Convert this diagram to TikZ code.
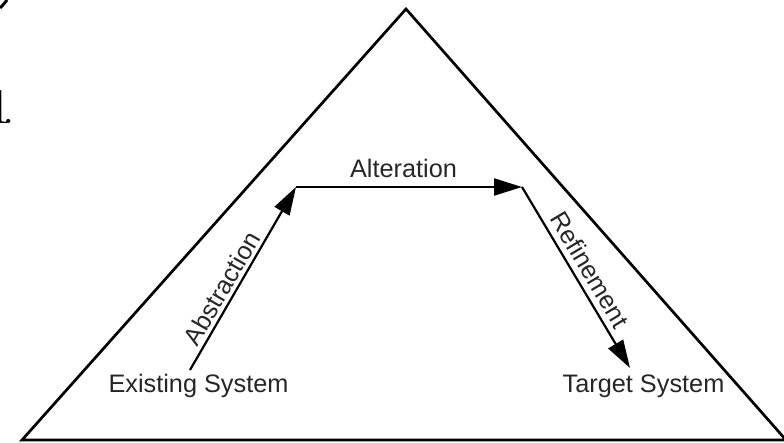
\documentclass[tikz,border=0pt]{standalone}
\usepackage{fontspec}
\newfontfamily\arialfont{Liberation Sans}
\usetikzlibrary{arrows.meta}
\begin{document}
\begin{tikzpicture}[x=1pt,y=-1pt,
  lbl/.style={font=\arialfont\fontsize{25.3}{30}\selectfont, text=black!85, inner sep=0pt},
  tri/.style={line width=2.7pt, line join=miter},
  flow/.style={line width=2.2pt, -{Triangle[length=28pt,width=17pt]}}]
\useasboundingbox (0,0) rectangle (784,443);
\clip (0,0) rectangle (784,443);
% fragments of cropped text at the top left
\node[font=\fontsize{50}{55}\selectfont, anchor=base west, inner sep=0pt] (frag) at (-12,124) {1\kern-8.6pt.};
\draw[line width=3pt] (0,8) .. controls (3,5) .. (7,0);
% triangle
\coordinate (apex) at (406,9);
\coordinate (bl) at (22,440);
\coordinate (br) at (786,440);
\draw[tri] (bl) -- (apex) -- (br) -- cycle;
% texts
\node[lbl, anchor=base] (es) at (198.5,392) {Existing System};
\node[lbl, anchor=base] (ts) at (643.5,392) {Target System};
% path
\coordinate (p0) at (190,370);
\coordinate (p1) at (296,187);
\coordinate (p2) at (522,187);
\coordinate (p3) at (630,368);
\draw[flow] (p0) -- (p1);
\draw[flow] (p1) -- (p2);
\draw[flow] (p2) -- (p3);
\node[lbl, anchor=base] (alt) at (403.5,178) {Alteration};
\node[lbl, anchor=base, rotate=59.9] (abs) at (229.7,292.8) {Abstraction};
\node[lbl, anchor=base, rotate=-59.2] (ref) at (582.2,274.5) {Refinement};
\end{tikzpicture}
\end{document}
